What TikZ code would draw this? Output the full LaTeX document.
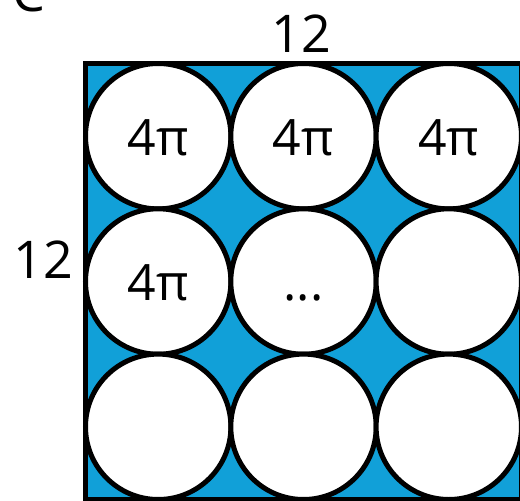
\documentclass[tikz,border=0pt]{standalone}
\usepackage{fontspec}
\setmainfont{Open Sans}
\definecolor{tileblue}{RGB}{17,160,216}
\begin{document}
\begin{tikzpicture}[x=1pt,y=-1pt,
  lbl/.style={font=\fontsize{52}{60}\selectfont, inner sep=0pt, anchor=base},
  disc/.style={circle, draw=black, fill=white, line width=5pt, minimum size=145.4pt, inner sep=0pt,
    font=\fontsize{50}{60}\selectfont, text height=38pt, text depth=0pt}]
\useasboundingbox (0,0) rectangle (520,501);
\node[lbl] (C) at (29,11) {C};
\node[draw=black, fill=tileblue, line width=5pt, minimum width=436pt, minimum height=436pt, inner sep=0pt] (sq) at (303.5,281.5) {};
\node[disc] (c11) at (158.2,136.2) {4π};
\node[disc] (c12) at (303.5,136.2) {4π};
\node[disc] (c13) at (448.8,136.2) {4π};
\node[disc] (c21) at (158.2,281.5) {4π};
\node[disc] (c22) at (303.5,281.5) {...};
\node[disc] (c23) at (448.8,281.5) {};
\node[disc] (c31) at (158.2,426.8) {};
\node[disc] (c32) at (303.5,426.8) {};
\node[disc] (c33) at (448.8,426.8) {};
\node[lbl] (top) at (301,52) {12};
\node[lbl] (left) at (43,278) {12};
\end{tikzpicture}
\end{document}
